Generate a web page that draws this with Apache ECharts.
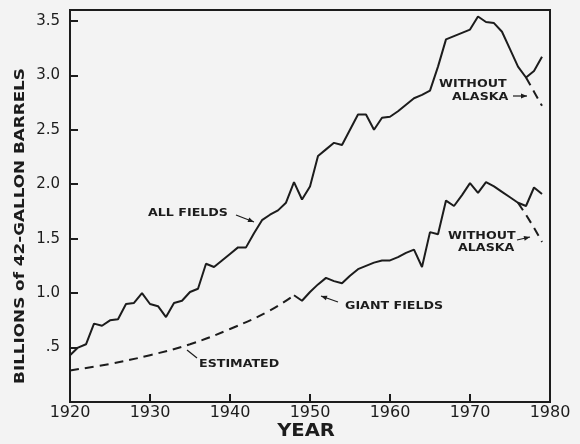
<!DOCTYPE html>
<html>
<head>
<meta charset="utf-8">
<script src="https://cdn.jsdelivr.net/npm/echarts@6/dist/echarts.min.js"></script>
<style>
  html, body { margin: 0; padding: 0; background: #f3f3f3; }
  #chart { width: 580px; height: 444px; }
</style>
</head>
<body>
<div id="chart"></div>
<script>
// 全油田（1920〜1979）
const allYears = [
  1920, 1921, 1922, 1923, 1924, 1925, 1926, 1927, 1928, 1929,
  1930, 1931, 1932, 1933, 1934, 1935, 1936, 1937, 1938, 1939,
  1940, 1941, 1942, 1943, 1944, 1945, 1946, 1947, 1948, 1949,
  1950, 1951, 1952, 1953, 1954, 1955, 1956, 1957, 1958, 1959,
  1960, 1961, 1962, 1963, 1964, 1965, 1966, 1967, 1968, 1969,
  1970, 1971, 1972, 1973, 1974, 1975, 1976, 1977, 1978, 1979
];
const allFields = [
  0.43, 0.50, 0.53, 0.72, 0.70, 0.75, 0.76, 0.90, 0.91, 1.00,
  0.90, 0.88, 0.78, 0.91, 0.93, 1.01, 1.04, 1.27, 1.24, 1.30,
  1.36, 1.42, 1.42, 1.55, 1.67, 1.72, 1.76, 1.83, 2.02, 1.86,
  1.98, 2.26, 2.32, 2.38, 2.36, 2.50, 2.64, 2.64, 2.50, 2.61,
  2.62, 2.67, 2.73, 2.79, 2.82, 2.86, 3.08, 3.33, 3.36, 3.39,
  3.42, 3.54, 3.49, 3.48, 3.40, 3.24, 3.08, 2.98, 3.04, 3.17
];

// 全油田（アラスカを除く）
const allNoAkYears = [1977, 1978, 1979];
const allNoAk = [2.98, 2.85, 2.72];

// 巨大油田（1948〜1979）
const giantYears = [
  1948, 1949, 1950, 1951, 1952, 1953, 1954, 1955, 1956, 1957,
  1958, 1959, 1960, 1961, 1962, 1963, 1964, 1965, 1966, 1967,
  1968, 1969, 1970, 1971, 1972, 1973, 1974, 1975, 1976, 1977,
  1978, 1979
];
const giantFields = [
  0.98, 0.93, 1.01, 1.08, 1.14, 1.11, 1.09, 1.16, 1.22, 1.25,
  1.28, 1.30, 1.30, 1.33, 1.37, 1.40, 1.24, 1.56, 1.54, 1.85,
  1.80, 1.90, 2.01, 1.92, 2.02, 1.98, 1.93, 1.88, 1.83, 1.80,
  1.97, 1.91
];

// 巨大油田（アラスカを除く）
const giantNoAkYears = [1976, 1977, 1978, 1979];
const giantNoAk = [1.83, 1.72, 1.60, 1.47];

// 巨大油田（推定値）
const estYears = [1920, 1925, 1930, 1935, 1940, 1945, 1948];
const estimated = [0.29, 0.35, 0.43, 0.53, 0.67, 0.84, 0.98];

// 目盛り
const xTicks = [1920, 1930, 1940, 1950, 1960, 1970, 1980];
const yTickLabels = { 0.5: '.5', 1: '1.0', 1.5: '1.5', 2: '2.0', 2.5: '2.5', 3: '3.0', 3.5: '3.5' };

const ink = '#1c1c1c';
const pairs = (xs, ys) => xs.map((x, i) => [x, ys[i]]);

function line(name, xs, ys, dashed, smooth) {
  return {
    name: name,
    type: 'line',
    data: pairs(xs, ys),
    showSymbol: false,
    smooth: smooth || false,
    lineStyle: { color: ink, width: 2, type: dashed ? [9, 6] : 'solid' },
    z: 3
  };
}

// 注記テキスト
function label(text, x, y) {
  return {
    type: 'text', x: x, y: y, scaleX: 1.15,
    style: {
      text: text, fill: ink,
      font: 'bold 11px "DejaVu Sans"',
      align: 'left', verticalAlign: 'middle',
      textAlign: 'left', textVerticalAlign: 'middle'
    }
  };
}

// 矢印（線＋三角形）
function arrow(x1, y1, x2, y2, head) {
  const items = [{
    type: 'line',
    shape: { x1: x1, y1: y1, x2: x2, y2: y2 },
    style: { stroke: ink, lineWidth: 1.2 }
  }];
  if (head) {
    const a = Math.atan2(y2 - y1, x2 - x1);
    const l = 6, w = 2.4;
    const bx = x2 - l * Math.cos(a), by = y2 - l * Math.sin(a);
    items.push({
      type: 'polygon',
      shape: { points: [
        [x2, y2],
        [bx + w * Math.sin(a), by - w * Math.cos(a)],
        [bx - w * Math.sin(a), by + w * Math.cos(a)]
      ] },
      style: { fill: ink }
    });
  }
  return items;
}

const chart = echarts.init(document.getElementById('chart'));

chart.setOption({
  animation: false,
  backgroundColor: '#f3f3f3',
  grid: {
    left: 70, right: 30, top: 10, bottom: 42,
    show: true, borderColor: ink, borderWidth: 2
  },
  xAxis: {
    type: 'value',
    min: xTicks[0], max: xTicks[xTicks.length - 1], interval: 10,
    axisLine: { lineStyle: { color: ink, width: 2 } },
    axisTick: { inside: true, length: 8, lineStyle: { color: ink, width: 2 } },
    axisLabel: {
      color: ink, fontSize: 16, fontFamily: 'DejaVu Sans', margin: 3,
      formatter: v => String(v)
    },
    splitLine: { show: false }
  },
  yAxis: {
    type: 'value',
    min: 0, max: 3.6, interval: 0.5,
    axisLine: { show: true, lineStyle: { color: ink, width: 2 } },
    axisTick: { show: true, inside: true, length: 8, lineStyle: { color: ink, width: 2 } },
    axisLabel: {
      color: ink, fontSize: 15, fontFamily: 'DejaVu Sans', margin: 10,
      formatter: v => yTickLabels[v] || ''
    },
    splitLine: { show: false }
  },
  series: [
    line('All fields', allYears, allFields, false),
    line('All fields without Alaska', allNoAkYears, allNoAk, true),
    line('Giant fields', giantYears, giantFields, false),
    line('Giant fields without Alaska', giantNoAkYears, giantNoAk, true),
    line('Estimated', estYears, estimated, true, 0.4)
  ],
  graphic: [
    // 軸タイトル
    {
      type: 'text', x: 20, y: 226, rotation: Math.PI / 2, scaleX: 1.2,
      style: {
        text: 'BILLIONS of 42-GALLON BARRELS', fill: ink,
        font: 'bold 14px "DejaVu Sans"',
        align: 'center', verticalAlign: 'middle',
        textAlign: 'center', textVerticalAlign: 'middle'
      }
    },
    {
      type: 'text', x: 306, y: 432, scaleX: 1.15,
      style: {
        text: 'YEAR', fill: ink,
        font: 'bold 17px "DejaVu Sans"',
        align: 'center', verticalAlign: 'middle',
        textAlign: 'center', textVerticalAlign: 'middle'
      }
    },
    label('ALL FIELDS', 148, 213),
    ...arrow(236, 215, 254, 222, true),
    label('WITHOUT', 439, 84),
    label('ALASKA', 452, 97),
    ...arrow(513, 96, 527, 96, true),
    label('GIANT FIELDS', 345, 306),
    ...arrow(338, 302, 321, 296, true),
    label('WITHOUT', 448, 236),
    label('ALASKA', 458, 248),
    ...arrow(517, 240, 530, 237, true),
    label('ESTIMATED', 199, 364),
    ...arrow(197, 358, 187, 350, false)
  ]
});
</script>
</body>
</html>
